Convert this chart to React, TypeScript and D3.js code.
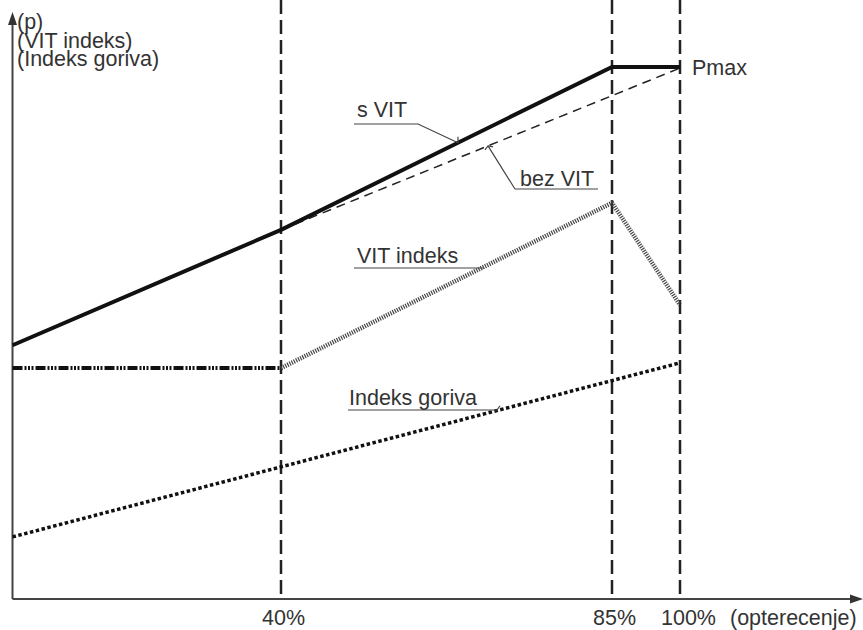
import React from 'react';
import * as d3 from 'd3';

// ---- data (load % on x, arbitrary p-units on y) ----
const loadTicks = [40, 85, 100];
const tickLabels = ['40%', '85%', '100%'];
const xAxisTitle = '(opterecenje)';
const yAxisLabels = ['(p)', '(VIT indeks)', '(Indeks goriva)'];

const sVitX = [0, 40, 85, 100];
const sVitY = [43.3, 63.0, 90.8, 90.8];
const bezVitX = [40, 100];
const bezVitY = [63.0, 90.6];
const vitFlatX = [0, 40];
const vitFlatY = [39.4, 39.4];
const vitRiseX = [40, 85, 100];
const vitRiseY = [39.4, 67.6, 50.2];
const fuelX = [0, 100];
const fuelY = [10.6, 40.3];

const W = 863;
const H = 630;
const FONT = '"Liberation Sans", Arial, Helvetica, sans-serif';
const TXT = '#333';

export default function App() {
  const x = d3.scaleLinear().domain([0, 40, 85, 100]).range([12.5, 281, 612, 680]);
  const y = d3.scaleLinear().domain([0, 100]).range([599, 13]);
  const line = d3
    .line<[number, number]>()
    .x((d) => x(d[0]))
    .y((d) => y(d[1]));
  const pts = (xs: number[], ys: number[]) => xs.map((v, i) => [v, ys[i]] as [number, number]);
  // y pixel on drawn polyline at pixel px
  const onLine = (xs: number[], ys: number[], px: number) =>
    d3.scaleLinear().domain(xs.map((v) => x(v))).range(ys.map((v) => y(v)))(px);

  const x0 = x(0);
  const yb = y(0);

  const sAnchor = { x: 458, y: onLine(sVitX, sVitY, 458) };
  const bAnchor = { x: 488, y: onLine(bezVitX, bezVitY, 488) };
  const vAnchor = { x: 484, y: onLine(vitRiseX, vitRiseY, 484) };
  const fAnchor = { x: 500, y: onLine(fuelX, fuelY, 500) };

  return (
    <svg
      width={W}
      height={H}
      style={{ position: 'absolute', left: 0, top: 0, background: '#fff' }}
      fontFamily={FONT}
    >
      <rect width={W} height={H} fill="#fff" />
      {/* vertical dashed reference lines */}
      {loadTicks.map((t) => (
        <line
          key={t}
          x1={x(t)}
          x2={x(t)}
          y1={0}
          y2={yb}
          stroke="#222"
          strokeWidth={2.5}
          strokeDasharray="14,6"
        />
      ))}

      {/* axes */}
      <line x1={x0} x2={x0} y1={yb} y2={22} stroke="#444" strokeWidth={2} />
      <path d={`M${x0},12 L${x0 - 4.5},25 L${x0 + 4.5},25 Z`} fill="#333" />
      <line x1={x0} x2={852} y1={yb} y2={yb} stroke="#444" strokeWidth={2} />
      <path d={`M863,${yb} L850,${yb - 4.5} L850,${yb + 4.5} Z`} fill="#333" />

      {/* Indeks goriva */}
      <path
        d={line(pts(fuelX, fuelY)) || ''}
        fill="none"
        stroke="#111"
        strokeWidth={3.5}
        strokeDasharray="3.5,2.5"
      />
      {/* VIT indeks */}
      <path
        d={line(pts(vitFlatX, vitFlatY)) || ''}
        fill="none"
        stroke="#111"
        strokeWidth={4}
        strokeDasharray="10,2,2,1.5,2,1.5,2,2"
      />
      <path
        d={line(pts(vitRiseX, vitRiseY)) || ''}
        fill="none"
        stroke="#444"
        strokeWidth={4.5}
        strokeDasharray="1.2,1.2"
      />
      {/* bez VIT */}
      <path
        d={line(pts(bezVitX, bezVitY)) || ''}
        fill="none"
        stroke="#222"
        strokeWidth={1.5}
        strokeDasharray="9,6"
      />
      {/* s VIT */}
      <path
        d={line(pts(sVitX, sVitY)) || ''}
        fill="none"
        stroke="#111"
        strokeWidth={4}
        strokeLinejoin="miter"
      />

      {/* annotations */}
      <g stroke="#444" strokeWidth={1.2} fill="none">
        <polyline points={`354,124 418,124 ${sAnchor.x},${sAnchor.y}`} />
        <line x1={sAnchor.x} x2={sAnchor.x} y1={sAnchor.y - 6} y2={sAnchor.y} />
        <polyline points={`598,189 515,189 ${bAnchor.x},${bAnchor.y}`} />
        <polyline
          points={`${bAnchor.x - 3},${bAnchor.y + 4} ${bAnchor.x},${bAnchor.y} ${bAnchor.x + 5},${bAnchor.y + 1}`}
        />
        <polyline points={`354,268 ${vAnchor.x},268`} />
        <polyline points={`348,410 ${fAnchor.x - 3},410 ${fAnchor.x},${fAnchor.y - 4}`} />
      </g>

      <g fill={TXT} fontSize={21.5}>
        <text x={357} y={117}>s VIT</text>
        <text x={520} y={186}>bez VIT</text>
        <text x={357} y={263}>VIT indeks</text>
        <text x={349} y={405}>Indeks goriva</text>
        <text x={692} y={75}>Pmax</text>
        {yAxisLabels.map((l, i) => (
          <text key={l} x={17} y={29 + i * 18.5}>
            {l}
          </text>
        ))}
        {loadTicks.map((t, i) => (
          <text key={t} x={x(t) - 19} y={625}>
            {tickLabels[i]}
          </text>
        ))}
        <text x={730} y={625}>{xAxisTitle}</text>
      </g>
    </svg>
  );
}
